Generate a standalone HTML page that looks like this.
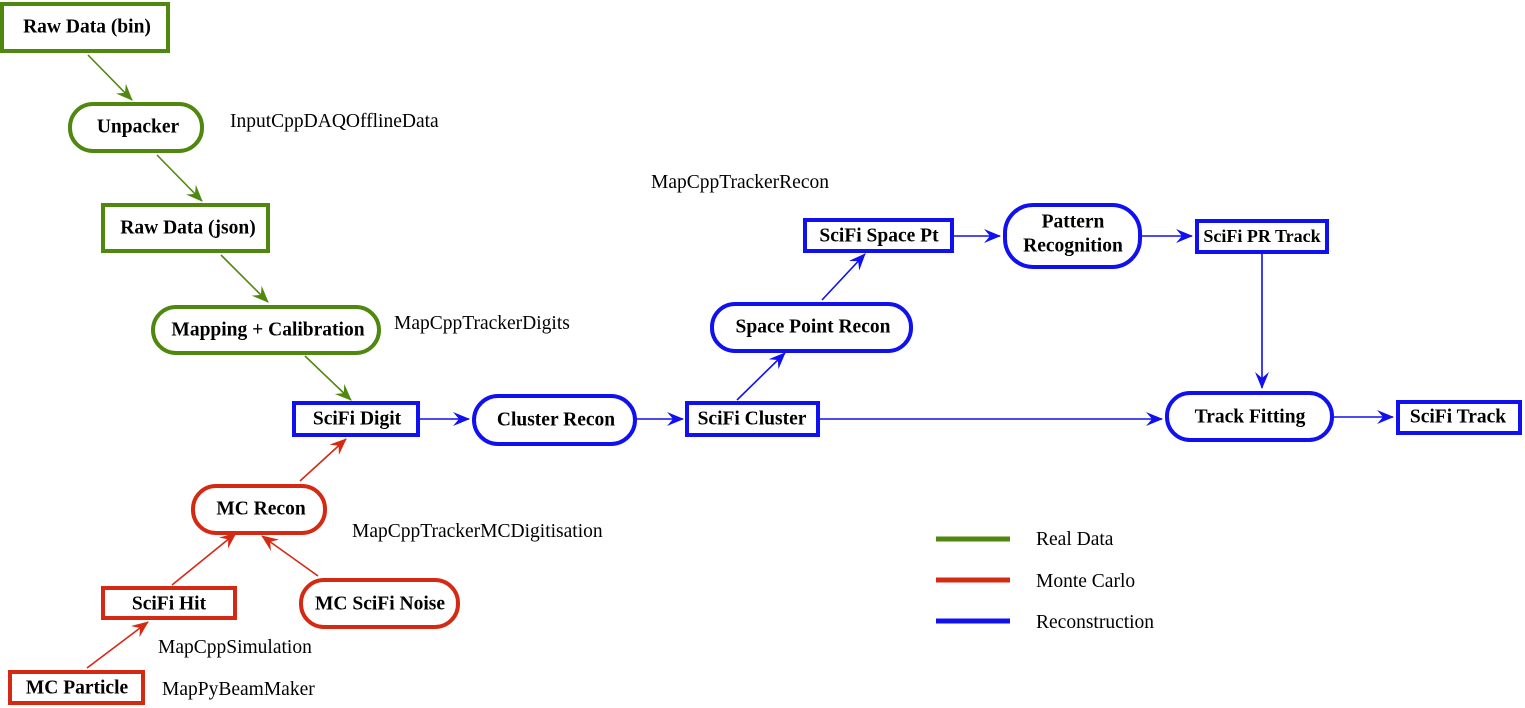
<!DOCTYPE html>
<html><head><style>body{margin:0;background:#fff}svg{display:block}
text{font-family:"Liberation Serif",serif;font-size:19.5px;fill:#000}
.b{font-weight:bold;text-anchor:middle;dominant-baseline:central;font-size:19.5px}
</style></head><body>
<svg width="1525" height="708" xmlns="http://www.w3.org/2000/svg">
<defs>
<marker id="g" markerWidth="18" markerHeight="14" refX="16" refY="7" orient="auto" markerUnits="userSpaceOnUse"><path d="M0,0 L17,7 L0,14 L6,7z" fill="#4f870f"/></marker>
<marker id="r" markerWidth="18" markerHeight="14" refX="16" refY="7" orient="auto" markerUnits="userSpaceOnUse"><path d="M0,0 L17,7 L0,14 L6,7z" fill="#d42a14"/></marker>
<marker id="u" markerWidth="18" markerHeight="14" refX="16" refY="7" orient="auto" markerUnits="userSpaceOnUse"><path d="M0,0 L17,7 L0,14 L6,7z" fill="#1010f0"/></marker>
</defs>
<g stroke-width="1.6" fill="none">
<g stroke="#4f870f">
<line x1="88" y1="55" x2="132" y2="100" marker-end="url(#g)"/>
<line x1="157" y1="155" x2="202" y2="201" marker-end="url(#g)"/>
<line x1="221" y1="255" x2="268" y2="302" marker-end="url(#g)"/>
<line x1="305" y1="356" x2="351" y2="400" marker-end="url(#g)"/>
</g>
<g stroke="#1010f0">
<line x1="419" y1="419" x2="469" y2="419" marker-end="url(#u)"/>
<line x1="636" y1="419" x2="683" y2="419" marker-end="url(#u)"/>
<line x1="819" y1="419" x2="1162" y2="419" marker-end="url(#u)"/>
<line x1="737" y1="400" x2="785" y2="353" marker-end="url(#u)"/>
<line x1="822" y1="300" x2="865" y2="254" marker-end="url(#u)"/>
<line x1="953" y1="236" x2="1000" y2="236" marker-end="url(#u)"/>
<line x1="1141" y1="236" x2="1192" y2="236" marker-end="url(#u)"/>
<line x1="1262" y1="254" x2="1262" y2="388" marker-end="url(#u)"/>
<line x1="1333" y1="417" x2="1393" y2="417" marker-end="url(#u)"/>
</g>
<g stroke="#d42a14">
<line x1="300" y1="481" x2="346" y2="439" marker-end="url(#r)"/>
<line x1="172" y1="585" x2="236" y2="533" marker-end="url(#r)"/>
<line x1="318" y1="576" x2="262" y2="536" marker-end="url(#r)"/>
<line x1="87" y1="668" x2="148" y2="622" marker-end="url(#r)"/>
</g>
</g>
<g fill="#fff" stroke-width="4">
<g stroke="#4f870f">
<rect x="2" y="4" width="166" height="47"/>
<rect x="70" y="104" width="132" height="47" rx="23"/>
<rect x="103" y="205" width="165" height="46"/>
<rect x="153" y="307" width="226" height="46" rx="23"/>
</g>
<g stroke="#1010f0">
<rect x="294" y="403" width="124" height="32"/>
<rect x="474" y="396" width="161" height="48" rx="24"/>
<rect x="687" y="403" width="131" height="32"/>
<rect x="712" y="304" width="199" height="47" rx="23"/>
<rect x="805" y="220" width="147" height="31"/>
<rect x="1005" y="205" width="135" height="62" rx="28"/>
<rect x="1197" y="221" width="130" height="31"/>
<rect x="1167" y="393" width="165" height="47" rx="23"/>
<rect x="1398" y="402" width="122" height="31"/>
</g>
<g stroke="#d42a14">
<rect x="193" y="486" width="132" height="47" rx="23"/>
<rect x="103" y="588" width="132" height="30"/>
<rect x="301" y="580" width="157" height="47" rx="23"/>
<rect x="10" y="672" width="133" height="31"/>
</g>
</g>
<g stroke-width="5">
<line x1="936" y1="539" x2="1010" y2="539" stroke="#4f870f"/>
<line x1="936" y1="580" x2="1010" y2="580" stroke="#d42a14"/>
<line x1="936" y1="621" x2="1010" y2="621" stroke="#1010f0"/>
</g>
<text class="b" x="87" y="27">Raw Data (bin)</text>
<text class="b" x="138" y="127">Unpacker</text>
<text class="b" x="188" y="228">Raw Data (json)</text>
<text class="b" x="268" y="330">Mapping + Calibration</text>
<text class="b" x="357" y="419">SciFi Digit</text>
<text class="b" x="556" y="420">Cluster Recon</text>
<text class="b" x="752" y="419">SciFi Cluster</text>
<text class="b" x="813" y="327">Space Point Recon</text>
<text class="b" x="879" y="236">SciFi Space Pt</text>
<text class="b" x="1073" y="222">Pattern</text>
<text class="b" x="1073" y="246">Recognition</text>
<text class="b" x="1262" y="236" style="font-size:18px">SciFi PR Track</text>
<text class="b" x="1250" y="417">Track Fitting</text>
<text class="b" x="1458" y="417">SciFi Track</text>
<text class="b" x="261" y="509">MC Recon</text>
<text class="b" x="169" y="604">SciFi Hit</text>
<text class="b" x="380" y="604">MC SciFi Noise</text>
<text class="b" x="77" y="688">MC Particle</text>
<text x="230" y="127">InputCppDAQOfflineData</text>
<text x="651" y="188">MapCppTrackerRecon</text>
<text x="394" y="329">MapCppTrackerDigits</text>
<text x="352" y="537">MapCppTrackerMCDigitisation</text>
<text x="158" y="653">MapCppSimulation</text>
<text x="162" y="695">MapPyBeamMaker</text>
<text x="1036" y="545">Real Data</text>
<text x="1036" y="587">Monte Carlo</text>
<text x="1036" y="628">Reconstruction</text>
</svg>
</body></html>
